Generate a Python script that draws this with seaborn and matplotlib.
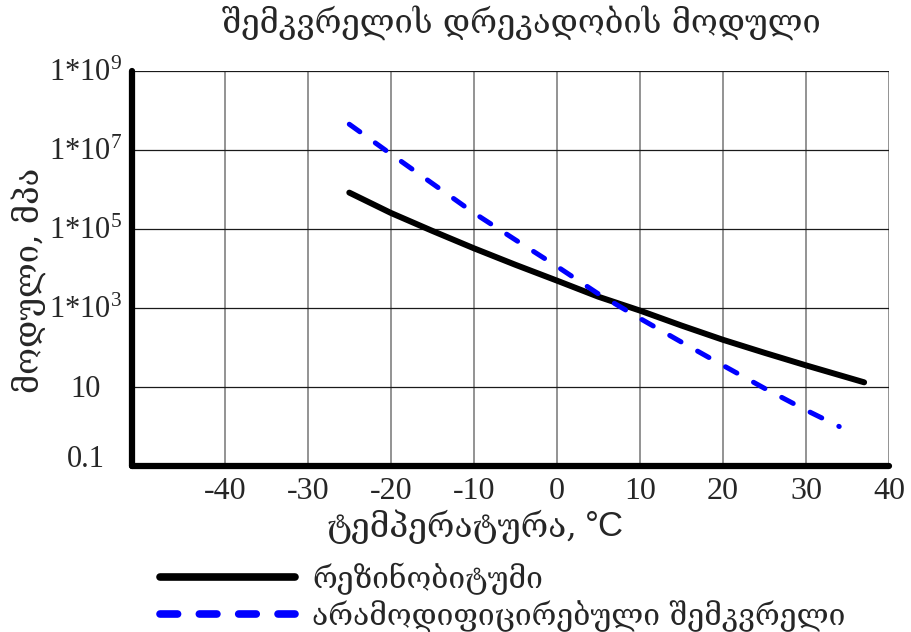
import numpy as np
import pandas as pd
import seaborn as sns
import matplotlib
matplotlib.use("Agg")
import matplotlib.pyplot as plt
import matplotlib.transforms as mtrans
from matplotlib.ticker import FixedLocator, FixedFormatter, NullLocator

# ---- data ----
temps_rubber = [-25, -20, -15, -10, -5, 0, 5, 10, 15, 20, 25, 30, 37]
modulus_rubber = [8.5e5, 2.6e5, 9.1e4, 3.3e4, 1.26e4, 5.0e3, 1.95e3, 870, 363, 158, 74, 35.5, 13.2]
temps_plain = [-25, -20, -15, -10, -5, 0, 5, 10, 15, 20, 25, 30, 34]
modulus_plain = [4.6e7, 8.1e6, 1.45e6, 2.6e5, 5.4e4, 1.15e4, 2.3e3, 550, 138, 35.5, 9.3, 2.6, 1.0]
series_names = ["რეზინობიტუმი", "არამოდიფიცირებული შემკვრელი"]

x_ticks = [-40, -30, -20, -10, 0, 10, 20, 30, 40]
x_tick_labels = ["-40", "-30", "-20", "-10", "0", "10", "20", "30", "40"]
y_ticks = [0.1, 10, 1e3, 1e5, 1e7, 1e9]
y_tick_labels = ["0.1", "10", r"$\mathrm{1{*}10^{3}}$", r"$\mathrm{1{*}10^{5}}$",
                 r"$\mathrm{1{*}10^{7}}$", r"$\mathrm{1{*}10^{9}}$"]
title_text = "შემკვრელის დრეკადობის მოდული"
xlabel_text = "ტემპერატურა,"
xlabel_unit = "°C"
ylabel_text = "მოდული, მპა"

sns.set_theme(style="white")
plt.rcParams["font.family"] = ["Liberation Serif", "DejaVu Serif"]
plt.rcParams["mathtext.fontset"] = "custom"
plt.rcParams["mathtext.rm"] = "Liberation Serif"
plt.rcParams["mathtext.it"] = "Liberation Serif:italic"
plt.rcParams["mathtext.bf"] = "Liberation Serif:bold"

geo_font = ["DejaVu Serif"]

fig = plt.figure(figsize=(9.11, 6.32), dpi=100)
fig.patch.set_facecolor("white")
ax = fig.add_axes([0.1446, 0.2627, 0.8313, 0.6242])
ax.set_facecolor("white")

df_r = pd.DataFrame({"t": temps_rubber, "m": modulus_rubber})
df_p = pd.DataFrame({"t": temps_plain, "m": modulus_plain})

sns.lineplot(data=df_r, x="t", y="m", ax=ax, color="black", lw=4.3,
             solid_capstyle="round", label=series_names[0], zorder=4)
sns.lineplot(data=df_p, x="t", y="m", ax=ax, color="#0000ff", lw=3.6,
             linestyle=(0, (2.6, 3.8)), dash_capstyle="round",
             label=series_names[1], zorder=5)

ax.set_yscale("log")
ax.set_xlim(-51.2, 40)
ax.set_ylim(0.1, 1e9)

ax.xaxis.set_major_locator(FixedLocator(x_ticks))
ax.xaxis.set_major_formatter(FixedFormatter(x_tick_labels))
ax.yaxis.set_major_locator(FixedLocator(y_ticks))
ax.yaxis.set_major_formatter(FixedFormatter(y_tick_labels))
ax.yaxis.set_minor_locator(NullLocator())
ax.xaxis.set_minor_locator(NullLocator())

ax.set_axisbelow(True)
ax.xaxis.grid(True, color="#808080", lw=1.2)
ax.yaxis.grid(True, color="#1a1a1a", lw=0.9)

for s in ["top", "right"]:
    ax.spines[s].set_visible(False)
for s in ["left", "bottom"]:
    ax.spines[s].set_color("black")
    ax.spines[s].set_linewidth(4.5)
    ax.spines[s].set_capstyle("round")
    ax.spines[s].set_zorder(6)

ax.tick_params(axis="both", length=0)
ax.tick_params(axis="x", pad=8, labelsize=23)
ax.tick_params(axis="y", pad=33, labelsize=22)
ax.set_xlabel("")
ax.set_ylabel("")

for lbl, val in zip(ax.get_yticklabels(), y_ticks):
    lbl.set_horizontalalignment("center")
    lbl.set_verticalalignment("baseline")
    dy = -1 if val == 0.1 else -10
    lbl.set_transform(lbl.get_transform() +
                      mtrans.ScaledTranslation(0, dy / 100, fig.dpi_scale_trans))

# texts
fig.text(521 / 911, 1 - 23 / 632, title_text, family=geo_font, fontsize=23.5,
         ha="center", va="center")
fig.text(29 / 911, 1 - 280 / 632, ylabel_text, family=geo_font, fontsize=23.5,
         ha="center", va="center", rotation=90)
fig.text(577 / 911, 1 - 527 / 632, xlabel_text, family=geo_font, fontsize=24,
         ha="right", va="center")
fig.text(585 / 911, 1 - 526 / 632, xlabel_unit, family=["Liberation Sans"], fontsize=25,
         ha="left", va="center")

leg = ax.legend(loc="center left", bbox_to_anchor=(160 / 911, 1 - 597 / 632),
                bbox_transform=fig.transFigure, frameon=False,
                prop={"family": geo_font, "size": 21.6},
                handlelength=4.5, handletextpad=0.57, labelspacing=0.17,
                borderpad=0, borderaxespad=0)
for ln in leg.get_lines():
    ln.set_linewidth(5.5)
leg.get_lines()[1].set_dashes((2.3, 2.85))

fig.savefig("out.png", dpi=100, facecolor="white")
